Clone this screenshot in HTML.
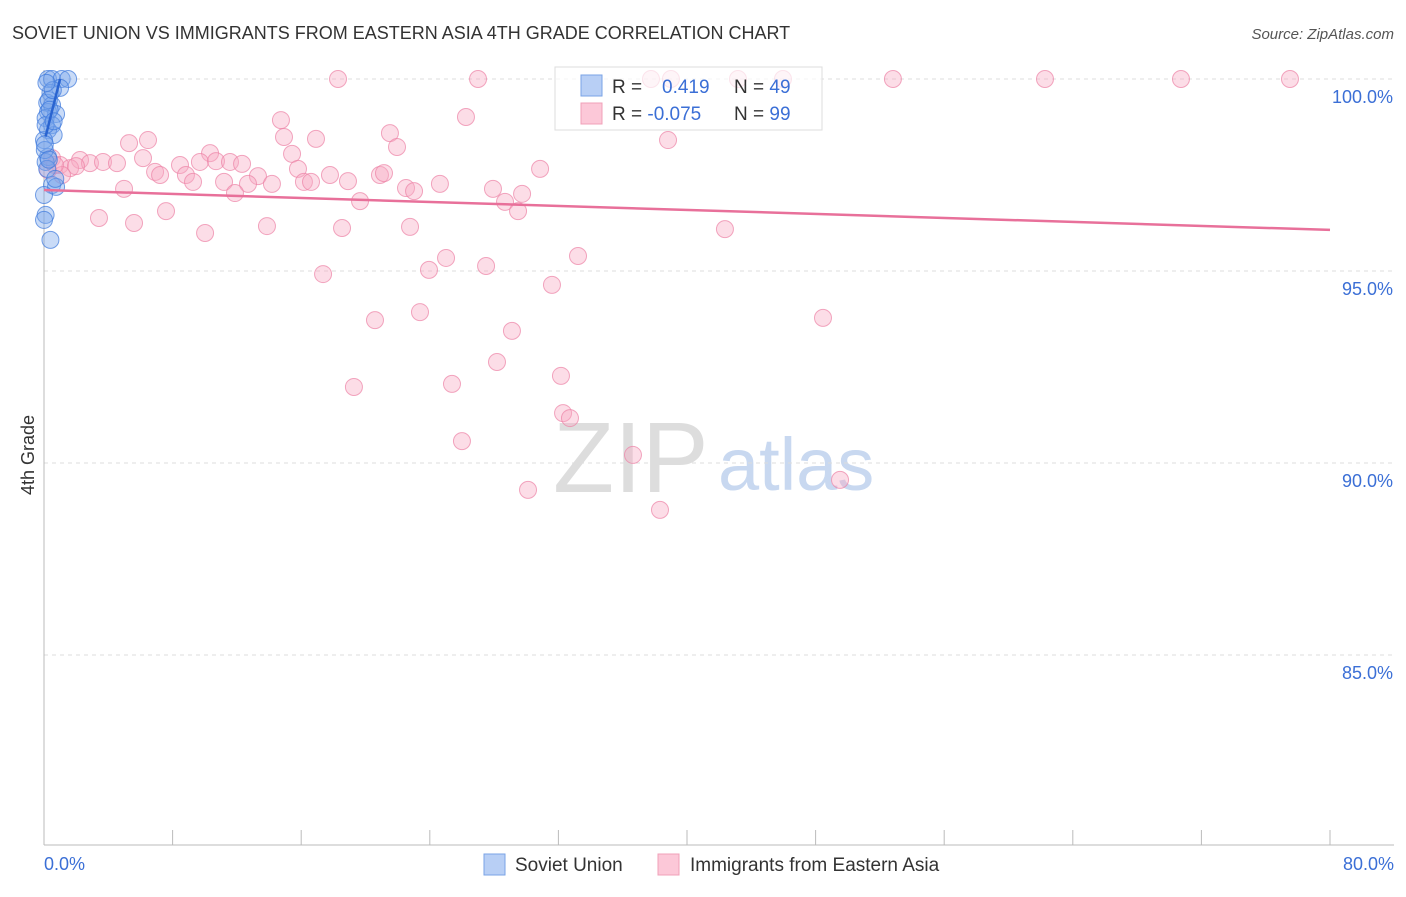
<!DOCTYPE html>
<html><head><meta charset="utf-8"><style>
body{margin:0;background:#fff;font-family:"Liberation Sans",sans-serif;}
svg text{font-family:"Liberation Sans",sans-serif;}
</style></head><body>
<svg id="c" width="1406" height="892" xmlns="http://www.w3.org/2000/svg">
<text x="12" y="39" font-size="18" fill="#333">SOVIET UNION VS IMMIGRANTS FROM EASTERN ASIA 4TH GRADE CORRELATION CHART</text>
<text x="1394" y="39" font-size="15" fill="#555" text-anchor="end" font-style="italic">Source: ZipAtlas.com</text>
<g>
<text x="553" y="492" font-size="100" fill="#ddd" font-family="Liberation Serif">ZIP</text>
<text x="718" y="490" font-size="74" fill="#c8d8f0">atlas</text>
</g>
<g id="grid"></g>
<g id="pts"></g>
<text x="34" y="455" font-size="18" fill="#333" text-anchor="middle" transform="rotate(-90 34 455)">4th Grade</text>
<text x="44" y="870" font-size="18" fill="#3b6fd6">0.0%</text>
<text x="1394" y="870" font-size="18" fill="#3b6fd6" text-anchor="end">80.0%</text>
<g>
<rect x="555" y="67" width="267" height="63" fill="rgba(255,255,255,0.7)" stroke="#ddd"/>
<rect x="581" y="75" width="21" height="21" fill="#b8cff5" stroke="#7aa3e6"/>
<rect x="581" y="103" width="21" height="21" fill="#fcc8d8" stroke="#f0a0b8"/>
<text x="612" y="93" font-size="19" fill="#333">R = <tspan fill="#3b6fd6" x="662">0.419</tspan></text>
<text x="734" y="93" font-size="19" fill="#333">N = <tspan fill="#3b6fd6">49</tspan></text>
<text x="612" y="120" font-size="19" fill="#333">R = <tspan fill="#3b6fd6">-0.075</tspan></text>
<text x="734" y="120" font-size="19" fill="#333">N = <tspan fill="#3b6fd6">99</tspan></text>
</g>
<g>
<rect x="484" y="854" width="21" height="21" fill="#b8cff5" stroke="#7aa3e6"/>
<text x="515" y="871" font-size="19" fill="#333">Soviet Union</text>
<rect x="658" y="854" width="21" height="21" fill="#fcc8d8" stroke="#f0a0b8"/>
<text x="690" y="871" font-size="19" fill="#333">Immigrants from Eastern Asia</text>
</g>
</svg>
<script>
const yTicks=[100,95,90,85];
const yTickLabels=["100.0%","95.0%","90.0%","85.0%"];
const xTicks=[0,8,16,24,32,40,48,56,64,72,80];
const pinkPx=[[338,79],[478,79],[651,79],[671,79],[738,79],[783,79],[893,79],[1045,79],[1181,79],[1290,79],[466,117],[281,120],[390,133],[129,143],[148,140],[284,137],[316,139],[397,147],[668,140],[210,153],[292,154],[52,158],[143,158],[80,160],[90,163],[103,162],[117,163],[60,165],[70,168],[76,166],[180,165],[200,162],[216,161],[230,162],[242,164],[258,176],[298,169],[330,175],[380,175],[384,173],[540,169],[155,172],[160,175],[186,175],[193,182],[224,182],[248,184],[272,184],[304,182],[311,182],[348,181],[406,188],[414,191],[440,184],[493,189],[522,194],[124,189],[235,193],[360,201],[505,202],[518,211],[99,218],[134,223],[166,211],[205,233],[267,226],[342,228],[410,227],[725,229],[323,274],[429,270],[446,258],[486,266],[578,256],[552,285],[420,312],[375,320],[512,331],[823,318],[497,362],[561,376],[354,387],[452,384],[563,413],[570,418],[462,441],[633,455],[840,480],[528,490],[660,510],[62,175],[48,170],[55,165]];
// data values (x %, y %)
const pinkX=pinkPx.map(p=>+((p[0]-44)*80/1286).toFixed(2));
const pinkY=pinkPx.map(p=>+(100-(p[1]-79)/38.4).toFixed(2));
const blueX=[0.25,0.5,1.1,1.5,1.0,0.4,0.2,0.5,0.25,0.75,0.1,0.5,0.25,0.6,0.0,0.25,0.1,0.5,0.75,0.0,0.1,0.0,0.4,0.1,0.3,0.55,0.05,0.2,0.7,0.15,0.35,0.6,0.05,0.3];
const blueY=[100,100,100,100,99.77,99.64,99.38,99.32,99.14,99.09,98.98,98.8,98.67,98.54,98.41,97.97,97.84,97.24,97.19,96.98,96.46,96.33,95.81,98.8,99.45,99.71,98.15,97.66,97.4,99.9,99.2,98.9,98.3,97.9];
const pinkTrend=[[0,97.11],[80,96.07]];
const blueTrend=[[0.1,98.5],[1.0,100.0]];
const X=v=>44+v*1286/80, Y=v=>79+(100-v)*38.4;
const NS="http://www.w3.org/2000/svg";
function mk(t,a,p){const e=document.createElementNS(NS,t);for(const k in a)e.setAttribute(k,a[k]);p.appendChild(e);return e;}
const g=document.getElementById('grid'), P=document.getElementById('pts');
yTicks.forEach((t,i)=>{
 const l=mk('line',{x1:44,x2:1394,y1:Y(t),y2:Y(t),stroke:'#ddd','stroke-dasharray':'4,4'},g);
 
 
 const tx=mk('text',{x:1393,y:Y(t)+24,'font-size':18,fill:'#3b6fd6','text-anchor':'end'},g);
 tx.textContent=yTickLabels[i];
 
 
});
const ax=mk('line',{x1:44,x2:44,y1:70,y2:845,stroke:'#bbb'},g);


const bx=mk('line',{x1:44,x2:1394,y1:845,y2:845,stroke:'#bbb'},g);


xTicks.forEach(t=>{
 const l=mk('line',{x1:X(t),x2:X(t),y1:830,y2:845,stroke:'#bbb'},g);
 
 
});
pinkX.forEach((x,i)=>{
 const c=mk('circle',{cx:X(x),cy:Y(pinkY[i]),r:8.5,fill:'rgba(248,170,195,0.4)',stroke:'rgba(236,130,165,0.7)','stroke-width':1},P);
 
 
});
blueX.forEach((x,i)=>{
 const c=mk('circle',{cx:X(x),cy:Y(blueY[i]),r:8.5,fill:'rgba(120,165,235,0.4)',stroke:'rgba(60,120,220,0.7)','stroke-width':1},P);
 
 
});
const pt=mk('line',{x1:X(pinkTrend[0][0]),y1:Y(pinkTrend[0][1]),x2:X(pinkTrend[1][0]),y2:Y(pinkTrend[1][1]),stroke:'#e8709a','stroke-width':2.5},P);


const bt=mk('line',{x1:X(blueTrend[0][0]),y1:Y(blueTrend[0][1]),x2:X(blueTrend[1][0]),y2:Y(blueTrend[1][1]),stroke:'#2a64d0','stroke-width':2.5},P);


</script>
</body></html>
